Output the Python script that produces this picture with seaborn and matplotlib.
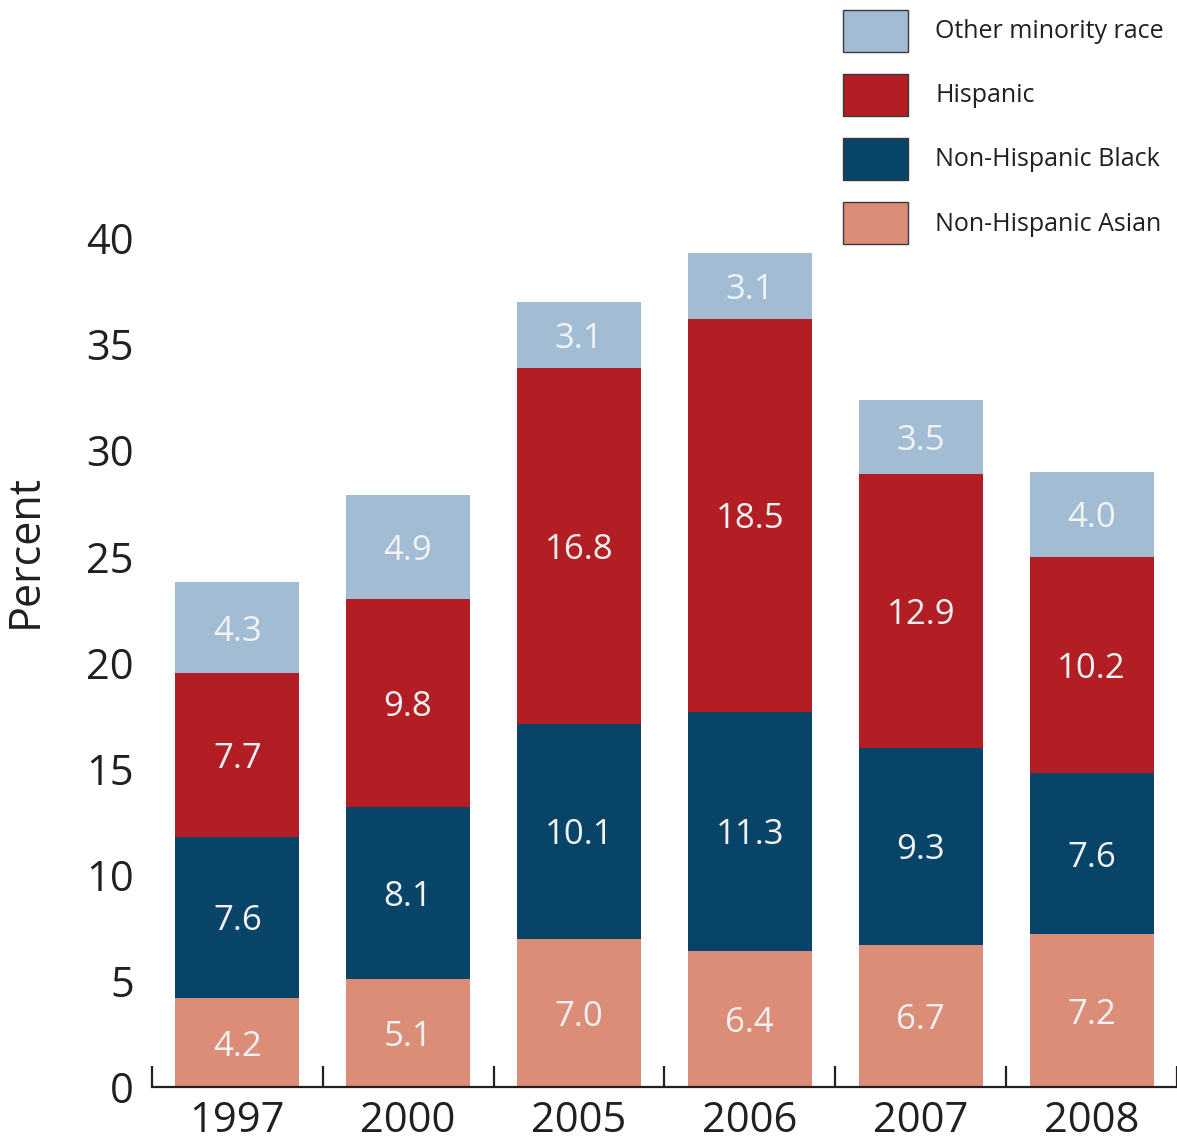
import numpy as np
import pandas as pd
import seaborn as sns
import matplotlib.pyplot as plt
from matplotlib.patches import Patch
from matplotlib.ticker import FixedLocator

# Data
years = ["1997", "2000", "2005", "2006", "2007", "2008"]
asian = [4.2, 5.1, 7.0, 6.4, 6.7, 7.2]
black = [7.6, 8.1, 10.1, 11.3, 9.3, 7.6]
hispanic = [7.7, 9.8, 16.8, 18.5, 12.9, 10.2]
other = [4.3, 4.9, 3.1, 3.1, 3.5, 4.0]

series_names = ["Non-Hispanic Asian", "Non-Hispanic Black", "Hispanic", "Other minority race"]
series_vals = [asian, black, hispanic, other]
colors = ["#db8d77", "#084368", "#b31e24", "#a2bcd4"]

sns.set_style("white")
plt.rcParams["font.family"] = ["Open Sans", "DejaVu Sans"]
txt = "#231f20"

fig = plt.figure(figsize=(11.77, 11.42), dpi=100)
ax = fig.add_axes([0.129, 0.048, 0.871, 0.7434])

bottom = np.zeros(len(years))
for name, vals, col in zip(series_names, series_vals, colors):
    df = pd.DataFrame({"year": years, "value": vals})
    sns.barplot(data=df, x="year", y="value", bottom=bottom, color=col,
                saturation=1, width=0.725, ax=ax, linewidth=0)
    for i, v in enumerate(vals):
        ax.text(i, bottom[i] + v / 2, f"{v:.1f}", ha="center", va="center_baseline",
                color="#f2f2f2", fontsize=25)
    bottom = bottom + np.array(vals)

ax.set_xlim(-0.5, 5.5)
ax.set_ylim(0, 40)
ax.set_yticks(range(0, 41, 5))
ax.set_xlabel("")
ax.set_ylabel("Percent", fontsize=31, color=txt)
ax.yaxis.set_label_coords(-0.1015, 0.632)

for s in ["top", "right", "left"]:
    ax.spines[s].set_visible(False)
ax.spines["bottom"].set_color(txt)
ax.spines["bottom"].set_linewidth(1.6)

ax.tick_params(axis="y", length=0, labelsize=30, pad=13, colors=txt)
ax.tick_params(axis="x", which="major", length=0, labelsize=30, pad=9, colors=txt)
ax.xaxis.set_minor_locator(FixedLocator(np.arange(-0.5, 6.0, 1.0)))
ax.tick_params(axis="x", which="minor", bottom=True, direction="in", length=15,
               width=1.6, color=txt)

handles = [Patch(facecolor=c, edgecolor="#3a3a3a", linewidth=1.0, label=n)
           for n, c in zip(series_names, colors)]
handles = handles[::-1]
fig.legend(handles=handles, loc="upper left", bbox_to_anchor=(0.7122, 0.996),
           frameon=False, fontsize=18, handlelength=2.6, handleheight=2.21,
           labelspacing=0.88, handletextpad=1.07, labelcolor=txt,
           borderaxespad=0, borderpad=0.2)

fig.savefig("out.png", dpi=100)
